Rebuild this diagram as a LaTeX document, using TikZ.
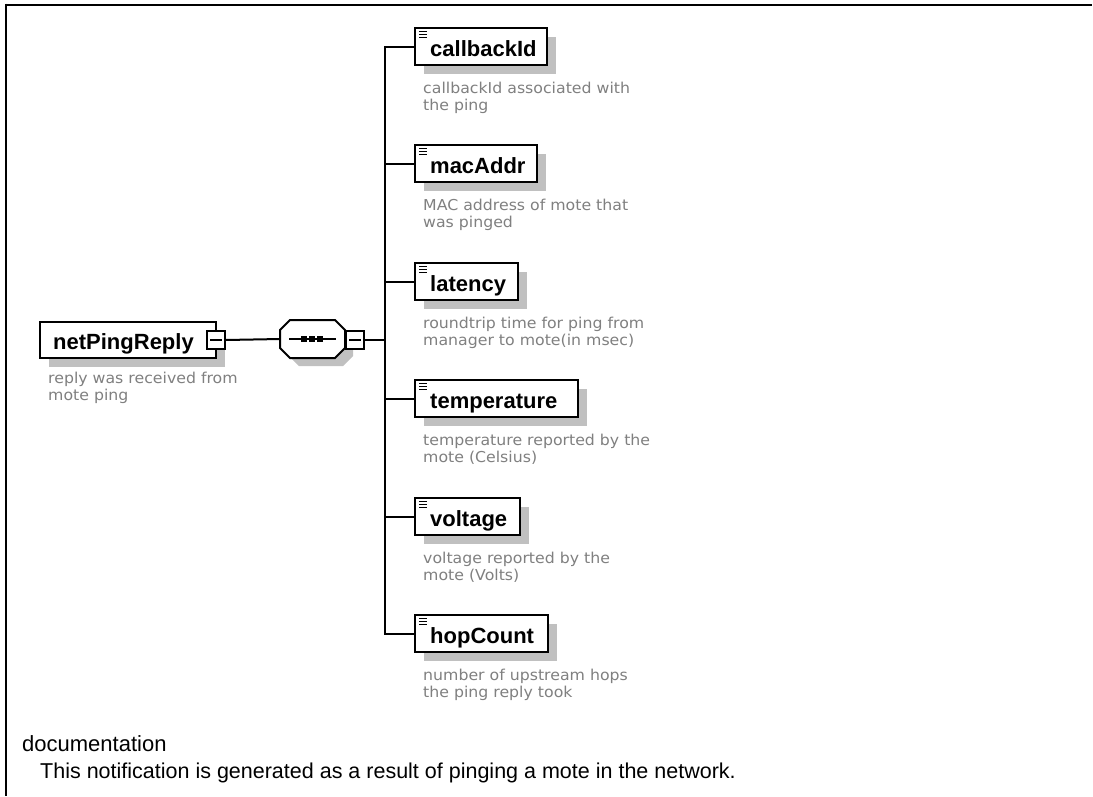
\documentclass[tikz,border=0pt]{standalone}
\usepackage{fontspec}
\setmainfont{Liberation Sans}
\newfontfamily\descfont[FakeStretch=1.05]{DejaVu Sans}
\definecolor{shadowgray}{HTML}{C0C0C0}
\definecolor{descgray}{HTML}{808080}
\tikzset{
  px/.style={x=1pt,y=-1pt},
  frame/.style={line width=2.8pt},
  elembox/.style={draw=black,line width=2pt,fill=white},
  elemlabel/.style={font=\fontsize{22}{26}\selectfont\bfseries,inner sep=0pt,anchor=base west},
  desc/.style={font=\descfont\fontsize{15}{16.5}\selectfont,text=descgray,align=left,inner sep=0pt,anchor=north west},
  link/.style={line width=2pt},
  toggle/.style={draw=black,line width=1.6pt,fill=white,minimum size=18pt,inner sep=0pt},
  minusbar/.style={line width=1.4pt},
  doctext/.style={inner sep=0pt,anchor=base west},
}
\newcommand{\childelem}[4]{%
  % #1 name, #2 top y, #3 right x, #4 description
  \fill[shadowgray] (424,#2+9) rectangle (#3+9,#2+46);
  \draw[elembox] (415,#2) rectangle (#3,#2+37);
  \draw[line width=1.1pt] (419,#2+3.8) -- (427,#2+3.8) (419,#2+6.8) -- (427,#2+6.8) (419,#2+9.8) -- (427,#2+9.8);
  \node[elemlabel] (#1) at (430,#2+28) {#1};
  \coordinate (#1-in) at (415,#2+18.5);
  \node[desc] (#1-doc) at (423,#2+54) {#4};
}
\begin{document}
\begin{tikzpicture}[px]
\useasboundingbox (0,0) rectangle (1093,796);
\fill[white] (0,0) rectangle (1093,796);
% outer frame (top and left edges)
\draw[frame] (6,5) -- (1092,5);
\draw[frame] (6,3.6) -- (6,796);

% root element
\fill[shadowgray] (49,331) rectangle (225,367);
\draw[elembox] (40,322) rectangle (216,358);
\node[elemlabel] (root) at (53,349) {netPingReply};
\node[toggle] (roottoggle) at (216,340) {};
\draw[minusbar] (210,340) -- (222,340);
\node[desc] (rootdoc) at (48,372) {reply was received from\\mote ping};

% sequence compositor
\fill[shadowgray] (299,328) -- (343,328) -- (353,338) -- (353,356) -- (343,366) -- (299,366) -- (289,356) -- (289,338) -- cycle;
\draw[elembox] (290,320) -- (335,320) -- (345,330) -- (345,348) -- (335,358) -- (290,358) -- (280,348) -- (280,330) -- cycle;
\coordinate (seqin) at (280,339);
\draw[line width=1.6pt] (289,339) -- (336,339);
\foreach \dx in {304,312,320} \fill (\dx-2.6,336.4) rectangle (\dx+2.6,341.6);
\node[toggle] (seqtoggle) at (355,340) {};
\draw[minusbar] (349,340) -- (361,340);

\draw[link] (roottoggle.east) -- (seqin);
\coordinate (bus) at (385,340);
\draw[link] (seqtoggle.east) -- (bus);

% child elements
\childelem{callbackId}{28}{547}{callbackId associated with\\the ping}
\childelem{macAddr}{145}{537}{MAC address of mote that\\was pinged}
\childelem{latency}{263}{518}{roundtrip time for ping from\\manager to mote(in msec)}
\childelem{temperature}{380}{578}{temperature reported by the\\mote (Celsius)}
\childelem{voltage}{498}{520}{voltage reported by the\\mote (Volts)}
\childelem{hopCount}{615}{548}{number of upstream hops\\the ping reply took}

\draw[link] (callbackId-in) -| (bus |- hopCount-in) -- (hopCount-in);
\foreach \c in {macAddr,latency,temperature,voltage}
  \draw[link] (bus |- \c-in) -- (\c-in);

% documentation
\node[doctext,font=\fontsize{22}{26}\selectfont] (dochead) at (22,751) {documentation};
\node[doctext,font=\fontsize{21.5}{25}\selectfont] (docbody) at (40,778) {This notification is generated as a result of pinging a mote in the network.};
\end{tikzpicture}
\end{document}
